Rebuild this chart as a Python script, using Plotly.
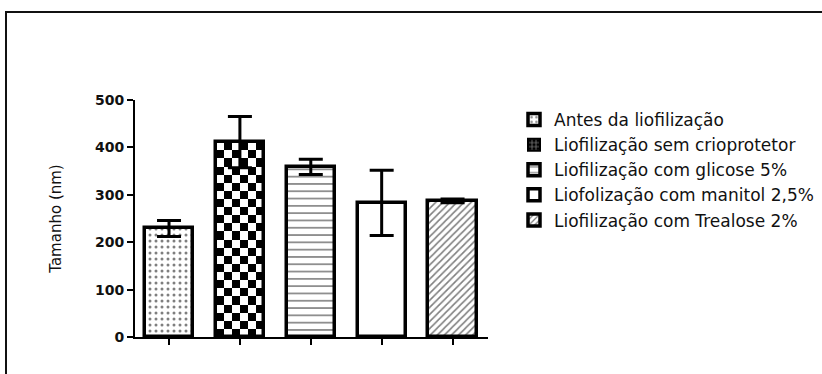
import base64
import plotly.graph_objects as go

# Mean particle size per freeze-drying condition, with error (nm)
categories = [
    "Antes da liofilização",
    "Liofilização sem crioprotetor",
    "Liofilização com glicose 5%",
    "Liofolização com manitol 2,5%",
    "Liofilização com Trealose 2%",
]
sizes = [229, 411, 359, 283, 287]
errors = [17, 54, 16, 69, 4]
y_ticks = [0, 100, 200, 300, 400, 500]

W, H = 822, 374
M_L, M_R, M_T, M_B = 135, 334, 100, 37
Y_MAX = 500
X_RANGE = [-0.48, 4.5]
BAR_W = 0.68
FONT = "DejaVu Sans"

plot_w = W - M_L - M_R
plot_h = H - M_T - M_B
px_per_unit = plot_h / Y_MAX


def px_to_paper_x(px):
    return (px - M_L) / plot_w


def px_to_paper_y(py):
    return (H - M_B - py) / plot_h


def checker_uri(value, cell_px=8.2, cols=6):
    """SVG checkerboard sized so the squares stay roughly square on the bar."""
    rows = max(1, round(value * px_per_unit / cell_px))
    cells = "".join(
        f'<rect x="{c}" y="{r}" width="1" height="1" fill="black"/>'
        for r in range(rows) for c in range(cols) if (r + c) % 2 == 1
    )
    svg = (
        f'<svg xmlns="http://www.w3.org/2000/svg" viewBox="0 0 {cols} {rows}" '
        f'width="{cols * 10}" height="{rows * 10}" preserveAspectRatio="none" '
        f'shape-rendering="crispEdges"><rect width="{cols}" height="{rows}" fill="white"/>'
        f"{cells}</svg>"
    )
    return "data:image/svg+xml;base64," + base64.b64encode(svg.encode()).decode()


# per-bar fill patterns (index 1 uses a checkerboard image instead)
patterns = [
    dict(shape=".", fgcolor="black", bgcolor="white", size=6, solidity=0.2),
    None,
    dict(shape="-", fgcolor="black", bgcolor="white", size=7.3, solidity=0.22),
    dict(shape="", bgcolor="white"),
    dict(shape="/", fgcolor="black", bgcolor="white", size=5, solidity=0.32),
]

fig = go.Figure()
images = []
for i, (name, val, err) in enumerate(zip(categories, sizes, errors)):
    line = dict(color="black", width=3.5)
    eb = dict(type="data", array=[err], color="black", thickness=3, width=12)
    if patterns[i] is None:
        # checkerboard bar: transparent fill over an image spanning the bar
        fig.add_trace(go.Bar(
            x=[i], y=[val], width=BAR_W, name=name, showlegend=False,
            marker=dict(color="rgba(0,0,0,0)", line=line), error_y=eb,
            hoverinfo="skip",
        ))
        images.append(dict(
            source=checker_uri(val), xref="x", yref="y",
            x=i - BAR_W / 2, y=val, sizex=BAR_W, sizey=val,
            xanchor="left", yanchor="top", sizing="stretch", layer="below",
        ))
        # legend swatch for the checkerboard bar
        fig.add_trace(go.Bar(
            x=[None], y=[None], name=name, legendrank=i + 1,
            marker=dict(color="black", line=dict(color="black", width=2),
                        pattern=dict(shape="+", fgcolor="white", bgcolor="black",
                                     size=5, solidity=0.35)),
        ))
    else:
        fig.add_trace(go.Bar(
            x=[i], y=[val], width=BAR_W, name=name, legendrank=i + 1,
            marker=dict(color="white", line=line, pattern=patterns[i]),
            error_y=eb,
        ))

# outer frame around the whole graphic
fig.add_shape(
    type="rect", xref="paper", yref="paper",
    x0=px_to_paper_x(6), x1=px_to_paper_x(W + 10),
    y0=px_to_paper_y(H + 10), y1=px_to_paper_y(12),
    line=dict(color="#111", width=2), fillcolor="rgba(0,0,0,0)",
)

fig.update_layout(
    width=W, height=H,
    margin=dict(l=M_L, r=M_R, t=M_T, b=M_B, autoexpand=False),
    paper_bgcolor="white", plot_bgcolor="white",
    barmode="overlay", bargap=0,
    images=images,
    showlegend=True,
    legend=dict(
        x=px_to_paper_x(514), y=px_to_paper_y(102), xanchor="left", yanchor="top",
        font=dict(family=FONT, size=17, color="#111"),
        bgcolor="rgba(0,0,0,0)", borderwidth=0,
    ),
    xaxis=dict(
        range=X_RANGE, tickvals=list(range(len(categories))), showticklabels=False,
        ticks="outside", ticklen=6, tickwidth=2, tickcolor="black",
        showline=True, linecolor="black", linewidth=2, showgrid=False, zeroline=False,
        fixedrange=True,
    ),
    yaxis=dict(
        range=[0, Y_MAX], tickvals=y_ticks, ticks="outside", ticklen=6, tickwidth=2,
        tickcolor="black", showline=True, linecolor="black", linewidth=2,
        showgrid=False, zeroline=False,
        tickfont=dict(family=FONT, size=14, color="#111", weight="bold"),
        title=dict(text="Tamanho (nm)", font=dict(family=FONT, size=15, color="#111"),
                   standoff=30),
        fixedrange=True,
    ),
)

fig.write_html("out.html", config={"displayModeBar": False})
